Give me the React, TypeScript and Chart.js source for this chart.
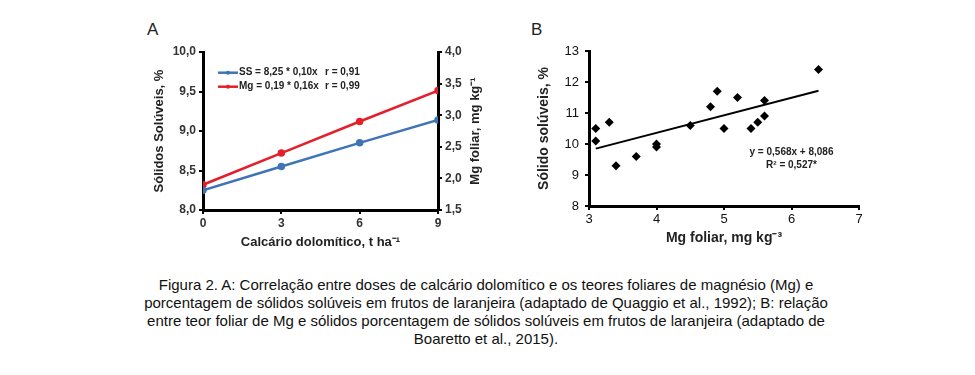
import React, { useEffect, useRef } from "react";
import { Chart, registerables } from "chart.js";

Chart.register(...registerables);

// ---- Chart A data ----
const doses = [0, 3, 6, 9];
const ssValues = [8.25, 8.55, 8.85, 9.14];
const mgValues = [1.9, 2.4, 2.9, 3.39];
const legendA = [
  { label: "SS = 8,25 * 0,10x", r: "r = 0,91", color: "#3f74b6" },
  { label: "Mg = 0,19 * 0,16x", r: "r = 0,99", color: "#e3202a" },
];
const rightTitleA = "Mg foliar, mg kg⁻¹";

// ---- Chart B data ----
const mgFoliar = [3.1, 3.1, 3.3, 3.4, 3.7, 4.0, 4.0, 4.5, 4.8, 4.9, 5.0, 5.2, 5.4, 5.5, 5.6, 5.6, 6.4];
const solidos = [10.5, 10.1, 10.7, 9.3, 9.6, 10.0, 9.9, 10.6, 11.2, 11.7, 10.5, 11.5, 10.5, 10.7, 10.9, 11.4, 12.4];
const trendX = [3.1, 6.4];
const trendY = [9.85, 11.72];
const eqLines = ["y = 0,568x + 8,086", "R² = 0,527*"];

const FONT = "'Liberation Sans', Arial, Helvetica, sans-serif";
const comma1 = (v: number) => v.toFixed(1).replace(".", ",");

function ChartA() {
  const ref = useRef<HTMLCanvasElement>(null);
  useEffect(() => {
    const legendPlugin = {
      id: "legendA",
      afterDraw(chart: any) {
        const ctx = chart.ctx;
        ctx.save();
        legendA.forEach((e, i) => {
          const y = 52.7 + i * 14;
          ctx.strokeStyle = e.color;
          ctx.lineWidth = 2.5;
          ctx.beginPath();
          ctx.moveTo(78, y);
          ctx.lineTo(98, y);
          ctx.stroke();
          ctx.fillStyle = e.color;
          ctx.beginPath();
          ctx.arc(88, y, 2, 0, Math.PI * 2);
          ctx.fill();
          ctx.fillStyle = "#222";
          ctx.font = `bold 10px ${FONT}`;
          ctx.textBaseline = "middle";
          ctx.textAlign = "left";
          ctx.fillText(e.label, 99, y);
          ctx.fillText(e.r, 185, y);
        });
        // right axis title, reading bottom-to-top
        const area = chart.chartArea;
        ctx.translate(335, (area.top + area.bottom) / 2);
        ctx.rotate(-Math.PI / 2);
        ctx.font = `bold 13px ${FONT}`;
        ctx.textAlign = "center";
        ctx.fillText(rightTitleA, 0, 0);
        ctx.restore();
      },
    };
    const tickFont = { family: FONT, size: 12, weight: "bold" };
    const chart = new Chart(ref.current!, {
      type: "line",
      data: {
        datasets: [
          {
            label: "SS",
            data: doses.map((d, i) => ({ x: d, y: ssValues[i] })),
            borderColor: "#3f74b6",
            backgroundColor: "#3f74b6",
            borderWidth: 2.5,
            pointRadius: 2.5,
            yAxisID: "y",
          },
          {
            label: "Mg",
            data: doses.map((d, i) => ({ x: d, y: mgValues[i] })),
            borderColor: "#e3202a",
            backgroundColor: "#e3202a",
            borderWidth: 2.5,
            pointRadius: 2.5,
            yAxisID: "y1",
          },
        ],
      },
      options: {
        responsive: false,
        animation: false,
        layout: { padding: { top: 32, left: 0, right: 0, bottom: 0 } },
        plugins: { legend: { display: false }, tooltip: { enabled: false } },
        scales: {
          x: {
            type: "linear",
            min: 0,
            max: 9,
            ticks: { stepSize: 3, color: "#333", font: tickFont, padding: 2 },
            border: { color: "#000", width: 3 },
            grid: { drawOnChartArea: false, color: "#000", lineWidth: 2, tickLength: 4 },
            title: {
              display: true,
              text: "Calcário dolomítico, t ha⁻¹",
              color: "#222",
              font: { family: FONT, size: 13, weight: "bold" },
              padding: { top: 0, bottom: 5 },
            },
            afterFit: (s: any) => { s.height = 45; },
          },
          y: {
            position: "left",
            min: 8,
            max: 10,
            ticks: { stepSize: 0.5, color: "#333", font: tickFont, padding: 3, callback: (v: any) => comma1(Number(v)) },
            border: { color: "#000", width: 3 },
            grid: { drawOnChartArea: false, color: "#000", lineWidth: 2, tickLength: 4 },
            title: {
              display: true,
              text: "Sólidos Solúveis, %",
              color: "#222",
              font: { family: FONT, size: 13, weight: "bold" },
              padding: { top: 12, bottom: 0 },
            },
            afterFit: (s: any) => { s.width = 63; },
          },
          y1: {
            position: "right",
            min: 1.5,
            max: 4,
            ticks: { stepSize: 0.5, color: "#333", font: tickFont, padding: 3, callback: (v: any) => comma1(Number(v)) },
            border: { color: "#000", width: 3 },
            grid: { drawOnChartArea: false, color: "#000", lineWidth: 2, tickLength: 4 },
            title: { display: false },
            afterFit: (s: any) => { s.width = 62; },
          },
        },
      },
      plugins: [legendPlugin],
    } as any);
    return () => chart.destroy();
  }, []);
  return <canvas ref={ref} width={360} height={235} style={{ position: "absolute", left: 140, top: 20, width: 360, height: 235 }} />;
}

function ChartB() {
  const ref = useRef<HTMLCanvasElement>(null);
  useEffect(() => {
    const eqPlugin = {
      id: "eqB",
      afterDraw(chart: any) {
        const ctx = chart.ctx;
        ctx.save();
        ctx.fillStyle = "#222";
        ctx.font = `bold 10px ${FONT}`;
        ctx.textAlign = "center";
        ctx.textBaseline = "middle";
        ctx.fillText(eqLines[0], 271.5, 132);
        ctx.fillText(eqLines[1], 271.5, 145);
        ctx.restore();
      },
    };
    const tickFont = { family: FONT, size: 13 };
    const chart = new Chart(ref.current!, {
      type: "scatter",
      data: {
        datasets: [
          {
            label: "Sólidos",
            data: mgFoliar.map((x, i) => ({ x, y: solidos[i] })),
            pointStyle: "rectRot",
            pointRadius: 4.5,
            backgroundColor: "#000",
            borderColor: "#000",
            borderWidth: 0,
          },
          {
            type: "line",
            label: "Trend",
            data: trendX.map((x, i) => ({ x, y: trendY[i] })),
            borderColor: "#000",
            borderWidth: 2,
            pointRadius: 0,
            showLine: true,
          },
        ],
      },
      options: {
        responsive: false,
        animation: false,
        layout: { padding: { top: 31, left: 0, right: 21, bottom: 0 } },
        plugins: { legend: { display: false }, tooltip: { enabled: false } },
        scales: {
          x: {
            type: "linear",
            min: 3,
            max: 7,
            ticks: { stepSize: 1, color: "#111", font: tickFont, padding: 2 },
            border: { color: "#000", width: 3 },
            grid: { drawOnChartArea: false, color: "#000", lineWidth: 2, tickLength: 4 },
            title: {
              display: true,
              text: "Mg foliar, mg kg⁻³",
              color: "#222",
              font: { family: FONT, size: 14, weight: "bold" },
              padding: { top: 0, bottom: 8 },
            },
            afterFit: (s: any) => { s.height = 49; },
          },
          y: {
            type: "linear",
            min: 8,
            max: 13,
            ticks: { stepSize: 1, color: "#111", font: tickFont, padding: 6 },
            border: { color: "#000", width: 3 },
            grid: { drawOnChartArea: false, color: "#000", lineWidth: 2, tickLength: 4 },
            title: {
              display: true,
              text: "Sólido solúveis, %",
              color: "#222",
              font: { family: FONT, size: 14, weight: "bold" },
              padding: { top: 16, bottom: 0 },
            },
            afterFit: (s: any) => { s.width = 69; },
          },
        },
      },
      plugins: [eqPlugin],
    } as any);
    return () => chart.destroy();
  }, []);
  return <canvas ref={ref} width={360} height={235} style={{ position: "absolute", left: 520, top: 20, width: 360, height: 235 }} />;
}

export default function App() {
  return (
    <div style={{ position: "absolute", left: 0, top: 0, width: 975, height: 375, background: "#fff", overflow: "hidden", fontFamily: FONT }}>
      <div style={{ position: "absolute", left: 147, top: 21, fontSize: 17, lineHeight: "17px", color: "#222" }}>A</div>
      <div style={{ position: "absolute", left: 531, top: 21, fontSize: 17, lineHeight: "17px", color: "#222" }}>B</div>
      <ChartA />
      <ChartB />
      <div style={{ position: "absolute", left: 0, top: 276, width: 972, textAlign: "center", fontSize: 15, lineHeight: "18px", color: "#111", whiteSpace: "nowrap" }}>
        Figura 2. A: Correlação entre doses de calcário dolomítico e os teores foliares de magnésio (Mg) e<br />
        porcentagem de sólidos solúveis em frutos de laranjeira (adaptado de Quaggio et al., 1992); B: relação<br />
        entre teor foliar de Mg e sólidos porcentagem de sólidos solúveis em frutos de laranjeira (adaptado de<br />
        Boaretto et al., 2015).
      </div>
    </div>
  );
}
